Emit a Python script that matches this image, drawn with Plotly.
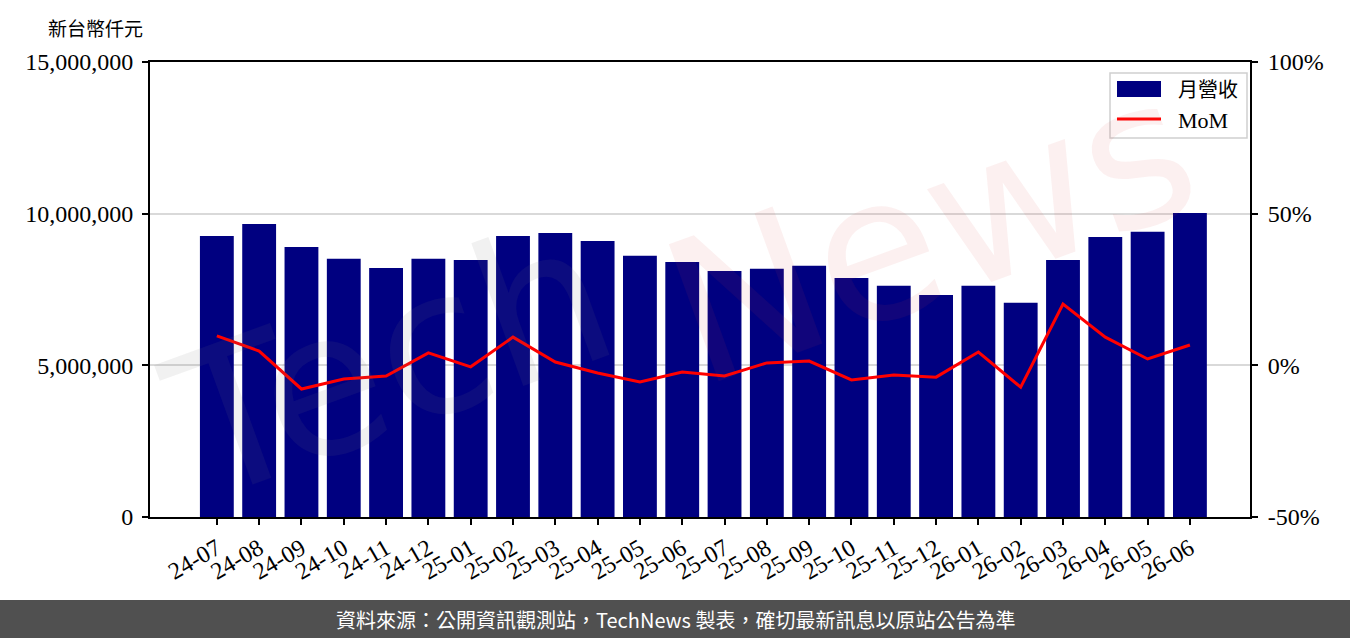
import plotly.graph_objects as go

months = ["24-07","24-08","24-09","24-10","24-11","24-12","25-01","25-02","25-03","25-04","25-05","25-06",
          "25-07","25-08","25-09","25-10","25-11","25-12","26-01","26-02","26-03","26-04","26-05","26-06"]
revenue = [9260000, 9660000, 8900000, 8510000, 8210000, 8510000, 8470000, 9260000, 9360000, 9100000, 8610000, 8410000,
           8110000, 8180000, 8280000, 7880000, 7620000, 7320000, 7620000, 7060000, 8470000, 9230000, 9400000, 10020000]
mom = [9.7, 4.7, -7.8, -4.5, -3.5, 4.1, -0.5, 9.3, 1.1, -2.5, -5.5, -2.2,
       -3.5, 0.8, 1.4, -4.8, -3.2, -3.9, 4.4, -7.2, 20.2, 9.3, 2.1, 6.7]

left_ticks = [0, 5000000, 10000000, 15000000]
left_text = ["0", "5,000,000", "10,000,000", "15,000,000"]
right_ticks = [-50, 0, 50, 100]
right_text = ["-50%", "0%", "50%", "100%"]

serif = "Liberation Serif, Noto Sans CJK TC, serif"
x_idx = list(range(len(months)))
FS = 24

fig = go.Figure()
fig.add_trace(go.Bar(x=x_idx, y=revenue, name="月營收", marker=dict(color="#000080", line=dict(width=0)),
                     width=0.8, yaxis="y", showlegend=False))
fig.add_trace(go.Scatter(x=x_idx, y=mom, name="MoM", mode="lines", line=dict(color="#ff0000", width=3),
                         yaxis="y2", showlegend=False))

def px(v):
    return (v - 150) / 1100

def py(v):
    return (517 - v) / 455

fig.update_layout(
    width=1350, height=638,
    margin=dict(l=150, r=100, t=62, b=121),
    plot_bgcolor="white", paper_bgcolor="white",
    font=dict(family=serif, size=FS, color="black"),
    showlegend=False,
    bargap=0.2,
    xaxis=dict(range=[-1.58, 24.42], tickmode="array", tickvals=x_idx, ticktext=months, tickangle=-30,
               showline=True, linecolor="black", linewidth=2, mirror=True, ticks="outside", ticklen=6,
               tickwidth=2, tickcolor="black", showgrid=False, zeroline=False,
               tickfont=dict(family=serif, size=FS)),
    yaxis=dict(range=[0, 15000000], tickmode="array", tickvals=left_ticks, ticktext=left_text,
               showline=True, linecolor="black", linewidth=2, ticks="outside", ticklen=6, tickwidth=2,
               tickcolor="black", showgrid=True, gridcolor="#d9d9d9", gridwidth=2, zeroline=False,
               tickfont=dict(family=serif, size=FS), ticklabelstandoff=4),
    yaxis2=dict(range=[-50, 100], overlaying="y", side="right", tickmode="array", tickvals=right_ticks,
                ticktext=right_text, showline=True, linecolor="black", linewidth=2, ticks="outside",
                ticklen=6, tickwidth=2, tickcolor="black", showgrid=False, zeroline=False,
                tickfont=dict(family=serif, size=FS), ticklabelstandoff=5),
    shapes=[
        dict(type="rect", xref="paper", yref="paper", x0=px(0), x1=px(1350), y0=py(600), y1=py(640),
             fillcolor="#505050", line=dict(width=0), layer="above"),
        dict(type="rect", xref="paper", yref="paper", x0=px(1110), x1=px(1247), y0=py(138), y1=py(73),
             fillcolor="rgba(255,255,255,0.85)", line=dict(color="#d0d0d0", width=1.5), layer="above"),
        dict(type="rect", xref="paper", yref="paper", x0=px(1117), x1=px(1161), y0=py(97), y1=py(81),
             fillcolor="#000080", line=dict(width=0), layer="above"),
        dict(type="line", xref="paper", yref="paper", x0=px(1117), x1=px(1161), y0=py(119), y1=py(119),
             line=dict(color="#ff0000", width=3), layer="above"),
    ],
    annotations=[
        dict(text="月營收", xref="paper", yref="paper", x=px(1176), y=py(90), xanchor="left", yanchor="middle",
             showarrow=False, font=dict(family=serif, size=20)),
        dict(text="MoM", xref="paper", yref="paper", x=px(1176), y=py(120), xanchor="left", yanchor="middle",
             showarrow=False, font=dict(family=serif, size=22)),
        dict(text="新台幣仟元", xref="paper", yref="paper", x=px(95), y=py(27), xanchor="center", yanchor="middle",
             showarrow=False, font=dict(family="Noto Sans CJK TC, serif", size=19, color="black")),
        dict(text="資料來源：公開資訊觀測站，TechNews 製表，確切最新訊息以原站公告為準", xref="paper", yref="paper",
             x=px(675), y=py(619), xanchor="center", yanchor="middle", showarrow=False,
             font=dict(family="Noto Sans CJK TC, sans-serif", size=20, color="white")),
        dict(text="Tech", xref="paper", yref="paper", x=px(390), y=py(360), xanchor="center", yanchor="middle",
             showarrow=False, textangle=-20, font=dict(family="DejaVu Sans", size=200, color="rgba(120,120,120,0.10)")),
        dict(text="News", xref="paper", yref="paper", x=px(930), y=py(230), xanchor="center", yanchor="middle",
             showarrow=False, textangle=-20, font=dict(family="DejaVu Sans", size=200, color="rgba(220,60,60,0.08)")),
    ],
)

fig.write_html("out.html")
